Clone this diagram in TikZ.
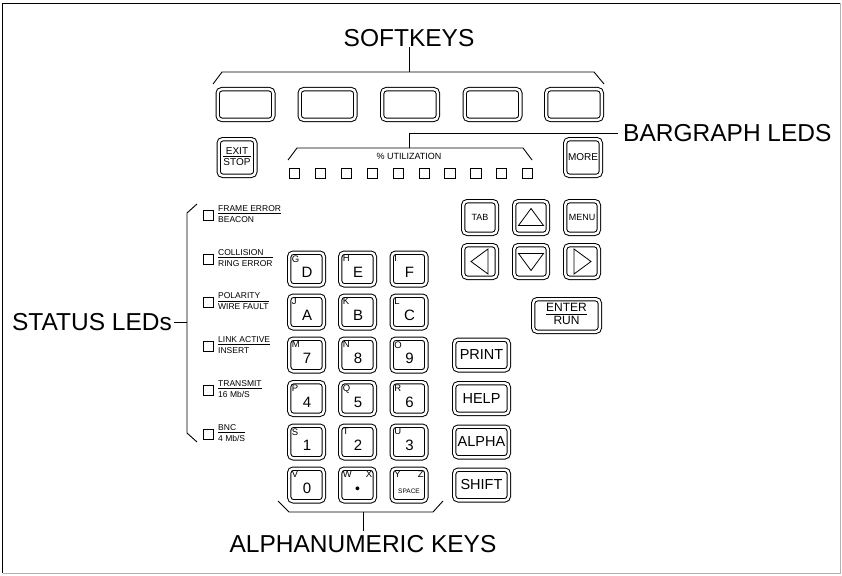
\documentclass[tikz,border=0pt]{standalone}
\usepackage{fontspec}
\setmainfont{Liberation Sans}
\setlength\arrayrulewidth{0.7pt}
\newcommand\ledlab[2]{\begin{tabular}{@{}l@{}}#1\\[-0.5pt]\hline\rule{0pt}{8.2pt}#2\end{tabular}}
\newcommand\nk[5]{%
  \node[nkey] (#1) at (#2,#3) {};
  \node[suplab, anchor=north west] (#1-s) at ([xshift=3pt,yshift=-3pt]#1.north west) {#4};
  \node[mainlab] (#1-m) at ([xshift=0.5pt,yshift=-3.5pt]#1.center) {#5};}
\begin{document}
\begin{tikzpicture}[x=1pt,y=-1pt,
  keyframe/.style={draw, double, double distance=2.4pt, line width=1pt, rounded corners=4pt, inner sep=0pt},
  nkey/.style={keyframe, minimum width=34.6pt, minimum height=32.6pt},
  wkey/.style={keyframe, minimum width=54.6pt, minimum height=30.6pt, font=\fontsize{14.5}{15}\selectfont},
  skey/.style={keyframe, minimum width=55.6pt, minimum height=30.6pt},
  akey/.style={keyframe, minimum width=33.6pt, minimum height=32.6pt},
  suplab/.style={inner sep=0pt, font=\fontsize{9.5}{10}\selectfont},
  mainlab/.style={inner sep=0pt, font=\fontsize{15}{16}\selectfont},
  biglab/.style={inner sep=0pt, font=\fontsize{24.5}{26}\selectfont},
  led/.style={draw, line width=0.8pt, minimum size=10.2pt, inner sep=0pt},
  ledtxt/.style={inner sep=0pt, font=\fontsize{8.5}{9}\selectfont},
  brk/.style={line width=0.9pt},
  tri/.style={line width=0.8pt, line join=miter}]
\useasboundingbox (0,0) rectangle (842,575);
% frame
\draw[line width=1.6pt] (2.5,573) -- (2.5,3.5) -- (840,3.5);
\draw[gray!60, line width=0.8pt] (840.5,3.5) -- (840.5,573.5) -- (2.5,573.5);
% softkeys
\foreach \i/\x in {1/245.5,2/327.5,3/410,4/492.5,5/574}
  \node[skey] (sk\i) at (\x,104.5) {};
\coordinate (skA) at (213,84); \coordinate (skB) at (222,72);
\coordinate (skC) at (594,72); \coordinate (skD) at (604,84);
\coordinate (skM) at (409,72);
\node[biglab, anchor=south] (softlab) at (409,47) {SOFTKEYS};
\draw[brk] (skA) -- (skB) -- (skC) -- (skD);
\draw[brk] (skM) -- (softlab.south);
% exit / more
\node[keyframe, minimum width=36.6pt, minimum height=36.6pt, font=\fontsize{10}{10}\selectfont] (exit) at (237,157.5) {\begin{tabular}{@{}c@{}}EXIT\\[-1.5pt]\hline\rule{0pt}{8.8pt}STOP\end{tabular}};
\node[keyframe, minimum width=35.6pt, minimum height=36.6pt, font=\fontsize{10}{10}\selectfont] (more) at (583,157.5) {MORE};
% bargraph
\node[inner sep=0pt, font=\fontsize{9}{9}\selectfont] (util) at (409,156) {\% UTILIZATION};
\foreach \i in {0,...,9}
  \node[led] (bg\i) at ({294.5+25.9*\i},173.5) {};
\coordinate (bgA) at (288,160); \coordinate (bgB) at (297,148);
\coordinate (bgC) at (523,148); \coordinate (bgD) at (532,160);
\coordinate (bgM) at (409,148); \coordinate (bgE) at (409,133);
\node[biglab, anchor=west] (bglab) at (623,133) {BARGRAPH LEDS};
\draw[brk] (bgA) -- (bgB) -- (bgC) -- (bgD);
\draw[brk] (bgM) -- (bgE) -- ([xshift=-5pt]bglab.west);
% status LEDs
\foreach \i/\y/\a/\b in {1/215/FRAME ERROR/BEACON,2/259/COLLISION/RING ERROR,3/302.5/POLARITY/WIRE FAULT,4/346/LINK ACTIVE/INSERT,5/390/TRANSMIT/{16 Mb/S},6/434/BNC/{4 Mb/S}}{
  \node[led] (st\i) at (208.5,\y) {};
  \node[ledtxt, anchor=west] (stt\i) at (218,\y) {\ledlab{\a}{\b}};}
\coordinate (stA) at (197,204); \coordinate (stB) at (187,213);
\coordinate (stC) at (187,433); \coordinate (stD) at (197,442);
\coordinate (stM) at (187,322);
\node[biglab, anchor=east] (stlab) at (172,322) {STATUS LEDs};
\draw[brk] (stA) -- (stB) -- (stC) -- (stD);
\draw[brk] (stM) -- ([xshift=2pt]stlab.east);
% navigation keys
\node[akey, font=\fontsize{9}{9}\selectfont] (tab) at (480,217.5) {TAB};
\node[akey] (up) at (531,217.5) {};
\node[akey, font=\fontsize{9}{9}\selectfont] (menu) at (582,217.5) {MENU};
\node[akey] (left) at (480,261.5) {};
\node[akey] (down) at (531,261.5) {};
\node[akey] (right) at (582,261.5) {};
\draw[tri] ([xshift=-12.5pt,yshift=-8pt]up.center) -- ([xshift=12.5pt,yshift=-8pt]up.center) -- ([yshift=9pt]up.center) -- cycle;
\draw[tri] ([xshift=-12.5pt,yshift=8pt]down.center) -- ([xshift=12.5pt,yshift=8pt]down.center) -- ([yshift=-9pt]down.center) -- cycle;
\draw[tri] ([xshift=8pt,yshift=-12.5pt]left.center) -- ([xshift=8pt,yshift=12.5pt]left.center) -- ([xshift=-9pt]left.center) -- cycle;
\draw[tri] ([xshift=-8pt,yshift=-12.5pt]right.center) -- ([xshift=-8pt,yshift=12.5pt]right.center) -- ([xshift=9pt]right.center) -- cycle;
\node[keyframe, minimum width=66.6pt, minimum height=32.6pt, font=\fontsize{12}{12}\selectfont] (enter) at (566.5,315.5) {\begin{tabular}{@{}c@{}}ENTER\\[-1.5pt]\hline\rule{0pt}{10pt}RUN\end{tabular}};
% alphanumeric keys
\nk{kD}{306.5}{269}{G}{D}
\nk{kE}{357.5}{269}{H}{E}
\nk{kF}{409}{269}{I}{F}
\nk{kA}{306.5}{312}{J}{A}
\nk{kB}{357.5}{312}{K}{B}
\nk{kC}{409}{312}{L}{C}
\nk{k7}{306.5}{355}{M}{7}
\nk{k8}{357.5}{355}{N}{8}
\nk{k9}{409}{355}{O}{9}
\nk{k4}{306.5}{398.5}{P}{4}
\nk{k5}{357.5}{398.5}{Q}{5}
\nk{k6}{409}{398.5}{R}{6}
\nk{k1}{306.5}{442}{S}{1}
\nk{k2}{357.5}{442}{T}{2}
\nk{k3}{409}{442}{U}{3}
\nk{k0}{306.5}{485}{V}{0}
\node[nkey] (kdot) at (357.5,485) {};
\node[suplab, anchor=north west] (kdot-w) at ([xshift=3pt,yshift=-3pt]kdot.north west) {W};
\node[suplab, anchor=north east] (kdot-x) at ([xshift=-3pt,yshift=-3pt]kdot.north east) {X};
\node[inner sep=0pt, font=\fontsize{14}{14}\selectfont] (kdot-m) at ([yshift=-5pt]kdot.center) {•};
\node[nkey] (ksp) at (409,485) {};
\node[suplab, anchor=north west] (ksp-y) at ([xshift=3pt,yshift=-3pt]ksp.north west) {Y};
\node[suplab, anchor=north east] (ksp-z) at ([xshift=-3pt,yshift=-3pt]ksp.north east) {Z};
\node[inner sep=0pt, font=\fontsize{6.5}{6.5}\selectfont] (ksp-m) at ([yshift=-6.5pt]ksp.center) {SPACE};
% function keys
\node[wkey] (print) at (481.5,355) {PRINT};
\node[wkey] (help) at (481.5,398.5) {HELP};
\node[wkey] (alpha) at (481.5,442) {ALPHA};
\node[wkey] (shift) at (481.5,485) {SHIFT};
% alphanumeric bracket
\coordinate (anA) at (278,501); \coordinate (anB) at (289,512);
\coordinate (anC) at (433,512); \coordinate (anD) at (443,501);
\coordinate (anM) at (363,512);
\node[biglab, anchor=north] (anlab) at (363,535) {ALPHANUMERIC KEYS};
\draw[brk] (anA) -- (anB) -- (anC) -- (anD);
\draw[brk] (anM) -- ([yshift=4pt]anlab.north);
\end{tikzpicture}
\end{document}
